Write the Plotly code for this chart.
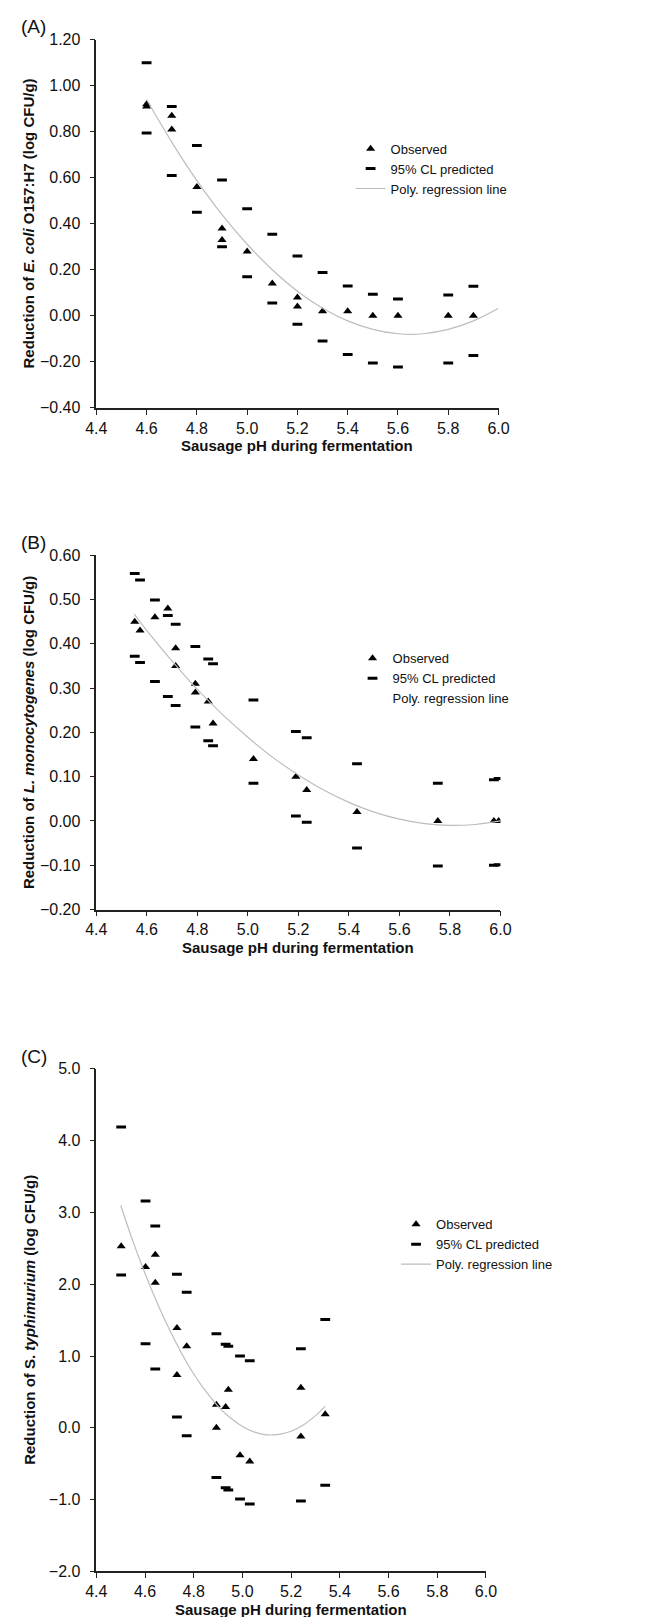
import plotly.graph_objects as go

W, H = 662, 1617

# ---------------- Panel A: E. coli O157:H7 ----------------
ecoli_ph_obs = [4.6, 4.6, 4.7, 4.7, 4.8, 4.9, 4.9, 5.0, 5.1, 5.2, 5.2, 5.3, 5.4, 5.5, 5.6, 5.8, 5.9]
ecoli_obs = [0.92, 0.91, 0.87, 0.81, 0.56, 0.38, 0.33, 0.28, 0.14, 0.08, 0.04, 0.02, 0.02, 0.00, 0.00, 0.00, 0.00]
ecoli_ph_cl = [4.6, 4.7, 4.8, 4.9, 5.0, 5.1, 5.2, 5.3, 5.4, 5.5, 5.6, 5.8, 5.9]
ecoli_cl_upper = [1.10, 0.91, 0.74, 0.59, 0.465, 0.355, 0.26, 0.188, 0.13, 0.094, 0.073, 0.09, 0.128]
ecoli_cl_lower = [0.795, 0.61, 0.45, 0.30, 0.17, 0.056, -0.037, -0.11, -0.168, -0.205, -0.222, -0.205, -0.172]
ecoli_ph_fit = [4.6, 4.7, 4.8, 4.9, 5.0, 5.1, 5.2, 5.3, 5.4, 5.5, 5.6, 5.7, 5.8, 5.9, 6.0]
ecoli_fit = [0.94, 0.755, 0.588, 0.44, 0.311, 0.20, 0.107, 0.033, -0.022, -0.059, -0.078, -0.078, -0.059, -0.022, 0.033]

# ---------------- Panel B: L. monocytogenes ----------------
listeria_ph = [4.552, 4.573, 4.632, 4.683, 4.714, 4.714, 4.792, 4.792, 4.843, 4.862,
               5.022, 5.19, 5.233, 5.432, 5.752, 5.974, 5.993]
listeria_obs = [0.45, 0.43, 0.46, 0.48, 0.39, 0.35, 0.31, 0.29, 0.27, 0.22,
                0.14, 0.10, 0.07, 0.02, 0.00, 0.00, 0.00]
listeria_ph_cl = [4.552, 4.573, 4.632, 4.683, 4.714, 4.792, 4.843, 4.862, 5.022, 5.19,
                  5.233, 5.432, 5.752, 5.974, 5.993]
listeria_cl_upper = [0.559, 0.544, 0.499, 0.464, 0.444, 0.394, 0.366, 0.355, 0.273, 0.202,
                     0.188, 0.129, 0.085, 0.093, 0.096]
listeria_cl_lower = [0.372, 0.358, 0.315, 0.281, 0.261, 0.212, 0.181, 0.170, 0.085, 0.011,
                     -0.003, -0.061, -0.102, -0.100, -0.099]
listeria_ph_fit = [4.55, 4.6, 4.7, 4.8, 4.9, 5.0, 5.1, 5.2, 5.3, 5.4, 5.5, 5.6, 5.7, 5.8, 5.9, 6.0]
listeria_fit = [0.467, 0.43, 0.361, 0.297, 0.24, 0.189, 0.143, 0.104, 0.07, 0.042, 0.02, 0.004,
                -0.006, -0.01, -0.008, 0.0]

# ---------------- Panel C: S. typhimurium ----------------
salm_ph = [4.502, 4.602, 4.642, 4.642, 4.731, 4.771, 4.731, 4.893, 4.893, 4.931, 4.942,
           4.99, 5.03, 5.24, 5.24, 5.34]
salm_obs = [2.53, 2.24, 2.41, 2.02, 1.39, 1.135, 0.735, 0.32, 0.0, 0.29, 0.53,
            -0.38, -0.47, 0.56, -0.12, 0.19]
salm_ph_cl = [4.502, 4.602, 4.642, 4.731, 4.771, 4.893, 4.931, 4.942, 4.99, 5.03, 5.24, 5.34]
salm_cl_upper = [4.19, 3.16, 2.81, 2.14, 1.89, 1.31, 1.165, 1.135, 1.0, 0.935, 1.10, 1.51]
salm_cl_lower = [2.13, 1.17, 0.82, 0.15, -0.11, -0.69, -0.835, -0.865, -0.99, -1.06, -1.02, -0.80]
salm_ph_fit = [4.5, 4.55, 4.6, 4.65, 4.7, 4.75, 4.8, 4.85, 4.9, 4.95, 5.0, 5.05, 5.1, 5.15,
               5.2, 5.25, 5.3, 5.34]
salm_fit = [3.10, 2.60, 2.15, 1.74, 1.37, 1.04, 0.75, 0.507, 0.30, 0.14, 0.02, -0.06, -0.097,
            -0.09, -0.047, 0.04, 0.17, 0.30]

x_ticks = [4.4, 4.6, 4.8, 5.0, 5.2, 5.4, 5.6, 5.8, 6.0]
x_title = "Sausage pH during fermentation"
y_titles = [
    "Reduction of <i>E. coli</i> O157:H7 (log CFU/g)",
    "Reduction of <i>L. monocytogenes</i> (log CFU/g)",
    "Reduction of S. <i>typhimurium</i> (log CFU/g)",
]
legend_names = ["Observed", "95% CL predicted", "Poly. regression line"]

FONT = "Liberation Sans, Arial, Helvetica, sans-serif"
LINE_GREY = "#bdbdbd"

# pixel geometry (left, right, top, bottom)
boxes = [
    (80, 496, 24, 396),
    (80, 498, 545, 903),
    (80, 483, 1064, 1572),
]


def xdom(l, r):
    return [l / W, r / W]


def ydom(t, b):
    return [1 - b / H, 1 - t / H]


fig = go.Figure()

panels = [
    (ecoli_ph_obs, ecoli_obs, ecoli_ph_cl, ecoli_cl_upper, ecoli_cl_lower, ecoli_ph_fit, ecoli_fit),
    (listeria_ph, listeria_obs, listeria_ph_cl, listeria_cl_upper, listeria_cl_lower, listeria_ph_fit, listeria_fit),
    (salm_ph, salm_obs, salm_ph_cl, salm_cl_upper, salm_cl_lower, salm_ph_fit, salm_fit),
]
legend_ids = ["legend", "legend2", "legend3"]

for i, (px, py, pcl, cu, cl, pf, fv) in enumerate(panels):
    ax = "" if i == 0 else str(i + 1)
    xa, ya = "x" + ax, "y" + ax
    lg = legend_ids[i]
    fig.add_trace(go.Scatter(
        x=px, y=py, mode="markers", name=legend_names[0], legend=lg,
        xaxis=xa, yaxis=ya,
        marker=dict(symbol="triangle-up", size=8, color="black"),
    ))
    fig.add_trace(go.Scatter(
        x=pcl + pcl, y=cu + cl, mode="markers", name=legend_names[1], legend=lg,
        xaxis=xa, yaxis=ya,
        marker=dict(symbol="line-ew", size=7, color="black", line=dict(width=3, color="black")),
    ))
    fig.add_trace(go.Scatter(
        x=pf, y=fv, mode="lines", name=legend_names[2], legend=lg,
        xaxis=xa, yaxis=ya, line=dict(color=LINE_GREY, width=1.2, shape="spline"),
        showlegend=(i != 1),
    ))
    if i == 1:
        fig.add_trace(go.Scatter(
            x=[None], y=[None], mode="lines", name=legend_names[2], legend=lg,
            xaxis=xa, yaxis=ya, line=dict(color="rgba(0,0,0,0)", width=1),
        ))

axis_common = dict(
    showline=True, linecolor="#222", linewidth=1.5, ticks="outside", ticklen=5,
    tickwidth=1.2, tickcolor="#222", showgrid=False, zeroline=False,
    tickfont=dict(family=FONT, size=16, color="#111"),
)

y_ranges = [[-0.4, 1.2], [-0.2, 0.6], [-2.0, 5.0]]
y_dticks = [0.2, 0.1, 1.0]
y_formats = [".2f", ".2f", ".1f"]

layout = dict(
    width=W, height=H, margin=dict(l=0, r=0, t=0, b=0),
    paper_bgcolor="white", plot_bgcolor="white",
    font=dict(family=FONT, size=15, color="#111"),
)

for i, (l, r, t, b) in enumerate(boxes):
    ax = "" if i == 0 else str(i + 1)
    layout["xaxis" + ax] = dict(
        domain=xdom(l, r), anchor="y" + ax, range=[4.4, 6.0],
        tickvals=x_ticks, ticktext=[f"{v:.1f}" for v in x_ticks], **axis_common,
    )
    layout["yaxis" + ax] = dict(
        domain=ydom(t, b), anchor="x" + ax, range=y_ranges[i],
        dtick=y_dticks[i], tick0=y_ranges[i][0], tickformat=y_formats[i],
        ticklabelstandoff=6, **axis_common,
    )

legend_common = dict(
    font=dict(family=FONT, size=13, color="#111"), bgcolor="rgba(0,0,0,0)",
    tracegroupgap=0, itemwidth=30, xanchor="left", yanchor="top",
)
legend_pos = [(343, 119), (345, 634), (390, 1206)]
for i, (lx, ly) in enumerate(legend_pos):
    key = legend_ids[i]
    layout[key] = dict(x=lx / W, y=1 - ly / H, **legend_common)

annotations = []
panel_labels = ["(A)", "(B)", "(C)"]
label_y = [11, 532, 1052]
for i, (l, r, t, b) in enumerate(boxes):
    annotations.append(dict(
        text=panel_labels[i], xref="paper", yref="paper", x=0, y=1 - label_y[i] / H,
        xanchor="left", yanchor="middle", showarrow=False,
        font=dict(family=FONT, size=19, color="#111"),
    ))
    annotations.append(dict(
        text=f"<b>{x_title}</b>", xref="paper", yref="paper", x=(l + r) / 2 / W,
        y=1 - (b + 38) / H, xanchor="center", yanchor="middle", showarrow=False,
        font=dict(family=FONT, size=15, color="#111"),
    ))
    annotations.append(dict(
        text=f"<b>{y_titles[i]}</b>", xref="paper", yref="paper", x=10 / W,
        y=1 - (t + b) / 2 / H, xanchor="center", yanchor="middle", showarrow=False,
        textangle=-90, font=dict(family=FONT, size=15, color="#111"),
    ))
layout["annotations"] = annotations

fig.update_layout(**layout)
fig.write_html("out.html")
